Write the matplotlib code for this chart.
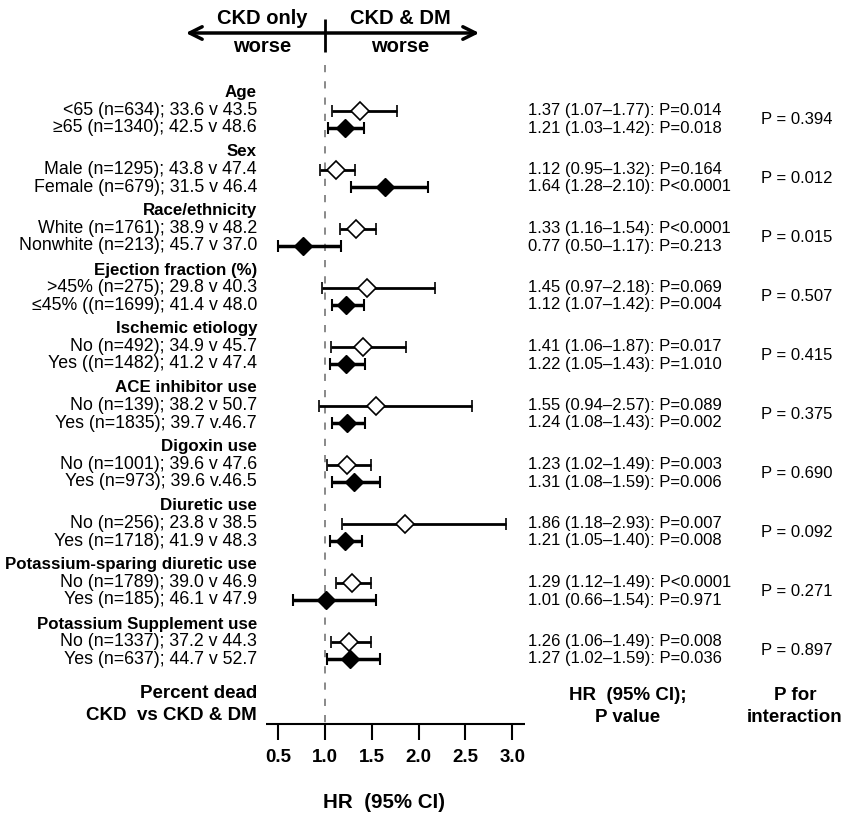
import matplotlib
matplotlib.use('Agg')
import matplotlib.pyplot as plt

plt.rcParams['font.family'] = ['Liberation Sans', 'DejaVu Sans']

groups = ['Age', 'Sex', 'Race/ethnicity', 'Ejection fraction (%)', 'Ischemic etiology',
          'ACE inhibitor use', 'Digoxin use', 'Diuretic use',
          'Potassium-sparing diuretic use', 'Potassium Supplement use']

row_labels = [
    ['<65 (n=634); 33.6 v 43.5', '≥65 (n=1340); 42.5 v 48.6'],
    ['Male (n=1295); 43.8 v 47.4', 'Female (n=679); 31.5 v 46.4'],
    ['White (n=1761); 38.9 v 48.2', 'Nonwhite (n=213); 45.7 v 37.0'],
    ['>45% (n=275); 29.8 v 40.3', '≤45% ((n=1699); 41.4 v 48.0'],
    ['No (n=492); 34.9 v 45.7', 'Yes ((n=1482); 41.2 v 47.4'],
    ['No (n=139); 38.2 v 50.7', 'Yes (n=1835); 39.7 v.46.7'],
    ['No (n=1001); 39.6 v 47.6', 'Yes (n=973); 39.6 v.46.5'],
    ['No (n=256); 23.8 v 38.5', 'Yes (n=1718); 41.9 v 48.3'],
    ['No (n=1789); 39.0 v 46.9', 'Yes (n=185); 46.1 v 47.9'],
    ['No (n=1337); 37.2 v 44.3', 'Yes (n=637); 44.7 v 52.7'],
]

# hazard ratios as drawn (first row open diamond, second row filled)
hr_open = [1.37, 1.12, 1.33, 1.45, 1.41, 1.55, 1.23, 1.86, 1.29, 1.26]
lo_open = [1.07, 0.95, 1.16, 0.97, 1.06, 0.94, 1.02, 1.18, 1.12, 1.06]
hi_open = [1.77, 1.32, 1.54, 2.18, 1.87, 2.57, 1.49, 2.93, 1.49, 1.49]
hr_fill = [1.21, 1.64, 0.77, 1.22, 1.22, 1.24, 1.31, 1.21, 1.01, 1.27]
lo_fill = [1.03, 1.28, 0.50, 1.07, 1.05, 1.08, 1.08, 1.05, 0.66, 1.02]
hi_fill = [1.42, 2.10, 1.17, 1.42, 1.43, 1.43, 1.59, 1.40, 1.54, 1.59]

hr_text = [
    ['1.37 (1.07–1.77): P=0.014', '1.21 (1.03–1.42): P=0.018'],
    ['1.12 (0.95–1.32): P=0.164', '1.64 (1.28–2.10): P<0.0001'],
    ['1.33 (1.16–1.54): P<0.0001', '0.77 (0.50–1.17): P=0.213'],
    ['1.45 (0.97–2.18): P=0.069', '1.12 (1.07–1.42): P=0.004'],
    ['1.41 (1.06–1.87): P=0.017', '1.22 (1.05–1.43): P=1.010'],
    ['1.55 (0.94–2.57): P=0.089', '1.24 (1.08–1.43): P=0.002'],
    ['1.23 (1.02–1.49): P=0.003', '1.31 (1.08–1.59): P=0.006'],
    ['1.86 (1.18–2.93): P=0.007', '1.21 (1.05–1.40): P=0.008'],
    ['1.29 (1.12–1.49): P<0.0001', '1.01 (0.66–1.54): P=0.971'],
    ['1.26 (1.06–1.49): P=0.008', '1.27 (1.02–1.59): P=0.036'],
]
p_interaction = ['0.394', '0.012', '0.015', '0.507', '0.415',
                 '0.375', '0.690', '0.092', '0.271', '0.897']
ticks = [0.5, 1.0, 1.5, 2.0, 2.5, 3.0]

W, H = 851, 814
X0, SCALE = 325, 93.6   # pixel of HR=1 and pixels per HR unit


def px(x):
    return 1 + (x - X0) / SCALE


fig = plt.figure(figsize=(W / 100, H / 100), dpi=100)
ax = fig.add_axes([0, 0, 1, 1])
ax.set_xlim(px(0), px(W))
ax.set_ylim(H, 0)
ax.axis('off')
tr = ax.get_yaxis_transform()

# top arrows
ax.annotate('', xy=(px(183), 33), xytext=(px(482), 33),
            arrowprops=dict(arrowstyle='<->,head_length=0.9,head_width=0.45', lw=2.5, color='k'))
ax.vlines(1.0, 19, 52, color='k', lw=2)
for x, t in [(262, 'CKD only'), (400, 'CKD & DM')]:
    ax.text(x / W, 19, t, transform=tr, ha='center', va='center', fontsize=14.5, fontweight='bold')
    ax.text(x / W, 47, 'worse', transform=tr, ha='center', va='center', fontsize=14.5, fontweight='bold')

# reference line
ax.vlines(1.0, 65, 724, color='grey', lw=1.3, linestyles=(0, (4, 5)))

for g in range(len(groups)):
    y0 = 93 + 59 * g
    ys = [y0 + 17.5, y0 + 35]
    ax.text(257 / W, y0, groups[g], transform=tr, ha='right', va='center',
            fontsize=12.2, fontweight='bold')
    for k in range(2):
        ax.text(257 / W, ys[k], row_labels[g][k], transform=tr, ha='right', va='center', fontsize=12.8)
        ax.text(528 / W, ys[k], hr_text[g][k], transform=tr, ha='left', va='center', fontsize=12)
    ax.text(797 / W, (ys[0] + ys[1]) / 2, 'P = ' + p_interaction[g], transform=tr,
            ha='center', va='center', fontsize=12)

    ax.errorbar(hr_open[g], ys[0], xerr=[[hr_open[g] - lo_open[g]], [hi_open[g] - hr_open[g]]],
                fmt='D', ms=9.5, mfc='white', mec='k', mew=1.2, ecolor='k', elinewidth=2,
                capsize=4.5, capthick=1.5, zorder=3)
    ax.errorbar(hr_fill[g], ys[1], xerr=[[hr_fill[g] - lo_fill[g]], [hi_fill[g] - hr_fill[g]]],
                fmt='D', ms=9.5, mfc='k', mec='k', ecolor='k', elinewidth=2.5,
                capsize=4.5, capthick=1.5, zorder=3)

# bottom axis
ax.hlines(724, px(266), px(525), color='k', lw=1.5)
ax.vlines(ticks, 724, 740, color='k', lw=1.5)
for t in ticks:
    ax.text(t, 757, '%.1f' % t, ha='center', va='center', fontsize=13.5, fontweight='bold')
ax.text(384 / W, 802, 'HR  (95% CI)', transform=tr, ha='center', va='center',
        fontsize=14.8, fontweight='bold')

ax.text(257 / W, 694, 'Percent dead', transform=tr, ha='right', va='center', fontsize=13.5, fontweight='bold')
ax.text(257 / W, 716, 'CKD  vs CKD & DM', transform=tr, ha='right', va='center', fontsize=13.5, fontweight='bold')
ax.text(628 / W, 695, 'HR  (95% CI);', transform=tr, ha='center', va='center', fontsize=13.5, fontweight='bold')
ax.text(628 / W, 717, 'P value', transform=tr, ha='center', va='center', fontsize=13.5, fontweight='bold')
ax.text(795 / W, 695, 'P for', transform=tr, ha='center', va='center', fontsize=13.5, fontweight='bold')
ax.text(795 / W, 717, 'interaction', transform=tr, ha='center', va='center', fontsize=13.5, fontweight='bold')

plt.savefig('out.png', dpi=100)
plt.close()
